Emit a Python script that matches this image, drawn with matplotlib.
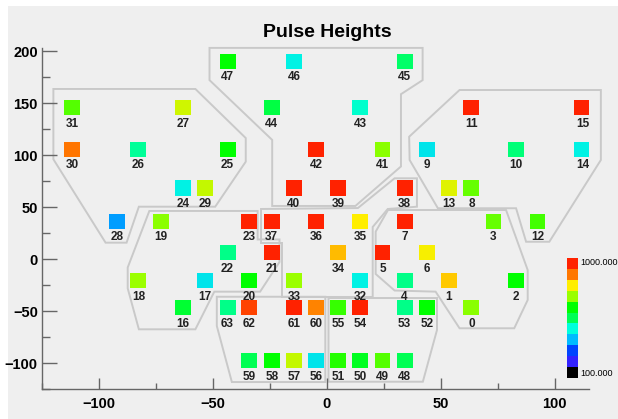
import matplotlib
matplotlib.use('Agg')
import matplotlib.pyplot as plt
from matplotlib.colors import LinearSegmentedColormap, ListedColormap, Normalize
from matplotlib.patches import Rectangle, Polygon
from matplotlib.cm import ScalarMappable
from matplotlib.ticker import MultipleLocator

plt.rcParams['font.family'] = ['Liberation Sans', 'DejaVu Sans']

# Channel number, pad centre (mm) and pulse height
channels = [47, 46, 45,
            31, 27, 44, 43, 11, 15,
            30, 26, 25, 42, 41, 9, 10, 14,
            24, 29, 40, 39, 38, 13, 8,
            28, 19, 23, 37, 36, 35, 7, 3, 12,
            22, 21, 34, 5, 6,
            18, 17, 20, 33, 32, 4, 1, 2,
            16, 63, 62, 61, 60, 55, 54, 53, 52, 0,
            59, 58, 57, 56, 51, 50, 49, 48]
pos_x = [-43.6, -14.5, 34.1,
         -111.9, -63.2, -24.2, 14.7, 63.4, 112.1,
         -111.9, -82.8, -43.6, -4.7, 24.4, 43.9, 82.9, 112.1,
         -63.2, -53.5, -14.5, 5.0, 34.1, 53.6, 63.4,
         -92.2, -72.8, -34.0, -24.2, -4.7, 14.7, 34.1, 73.1, 92.4,
         -43.6, -24.2, 5.0, 24.4, 43.9,
         -82.7, -53.5, -34.0, -14.5, 14.7, 34.1, 53.6, 82.9,
         -63.2, -43.6, -34.0, -14.5, -4.7, 5.0, 14.7, 34.1, 43.9, 63.4,
         -34.0, -24.2, -14.5, -4.7, 5.0, 14.7, 24.4, 34.1]
pos_y = [190.2] * 3 + [145.7] * 6 + [105.6] * 8 + [68.3] * 7 + [36.3] * 9 + \
        [6.1] * 5 + [-21.0] * 8 + [-46.6] * 10 + [-97.9] * 8
heights = [640, 442, 539,
           690, 775, 568, 471, 1000, 1000,
           910, 505, 640, 1000, 720, 424, 527, 442,
           442, 766, 1000, 1000, 1000, 790, 700,
           347, 720, 1000, 1000, 1000, 820, 1000, 700, 680,
           516, 1000, 859, 1000, 812,
           730, 424, 640, 730, 442, 516, 846, 640,
           586, 516, 964, 1000, 900, 670, 1000, 516, 640, 720,
           550, 640, 766, 424, 660, 604, 690, 550]

# Outlines of the PMT groups
outlines = [
    [(-51.5, 203), (42, 203), (42, 172), (32.5, 158.5), (32.5, 89), (12.5, 51),
     (-24, 51), (-24, 114.5), (-51.5, 172)],
    [(-120, 163.5), (-57.7, 163.5), (-35.6, 116.3), (-35.6, 93.6), (-49, 50.3),
     (-82.5, 50.3), (-87.9, 15.7), (-97.1, 15.7), (-120, 95.9)],
    [(58.2, 162.5), (120.2, 162.5), (120.2, 95.2), (97.6, 16.6), (87.4, 16.6),
     (83, 48.8), (48.7, 48.8), (36.3, 95.2), (36.1, 117.6)],
    [(26.8, 47.1), (78.6, 47.1), (88.1, -10.6), (88.1, -39.4), (82.2, -66.6),
     (58.2, -66.6), (47.7, -31.4), (29.7, -30.3), (21.4, -14.4), (21.4, 26.3)],
    [(-28.9, 48.1), (13.6, 49), (29.7, 77.6), (39.5, 77.6), (39.5, 50.3),
     (26.7, 48.1), (20.1, 30.8), (20.1, -36.5), (-19.7, -36.5), (-19.7, 15.4),
     (-28.9, 15.4)],
    [(-77.9, 46.2), (-30.4, 46.2), (-30.4, 18.8), (-20.8, 18.8), (-20.8, -2.9),
     (-29.3, -31.4), (-49.4, -31.4), (-57.7, -67.6), (-82.5, -67.6),
     (-87.4, -28.2), (-87.4, -8.2)],
    [(-48.3, -36.3), (-0.7, -36.3), (-0.7, -118.3), (-41.7, -118.3), (-48.3, -64.4)],
    [(0.7, -37.5), (48.3, -37.5), (48.3, -68.3), (42.1, -118), (0.7, -118)],
]

palette = ['#000000', '#3322ff', '#0044ff', '#00bbff', '#00ffdd', '#00ff55',
           '#00ff00', '#99ff00', '#ffee00', '#ff7700', '#ff2200']
zmin, zmax = 100, 1000
pad_w, pad_h = 7.0, 14.5

cmap = LinearSegmentedColormap.from_list('pulse', palette)
norm = Normalize(zmin, zmax)

fig = plt.figure(figsize=(6.18, 4.19), dpi=100, facecolor='white')
fig.add_artist(Rectangle((8 / 618, 0), 1, 413 / 419, transform=fig.transFigure,
                         facecolor='#efefef', edgecolor='none', zorder=-10))

ax = fig.add_axes([42 / 618, 30 / 419, 547 / 618, 341 / 419])
ax.set_facecolor('none')
ax.set_xlim(-125, 115)
ax.set_ylim(-125, 202.9)

for verts in outlines:
    ax.add_patch(Polygon(verts, closed=True, fill=False, edgecolor='#c9c9c9',
                         lw=1.4, clip_on=False, zorder=1))

for ch, x, y, v in zip(channels, pos_x, pos_y, heights):
    ax.add_patch(Rectangle((x - pad_w / 2, y - pad_h / 2), pad_w, pad_h,
                           facecolor=cmap(norm(v)), edgecolor='none', zorder=2))
    ax.annotate(str(ch), (x, y - pad_h / 2), xytext=(0, -1.8),
                textcoords='offset points', ha='center', va='top',
                fontsize=8.5, fontweight='bold', color='#222222', zorder=3)

for side in ['top', 'right']:
    ax.spines[side].set_visible(False)
for side in ['left', 'bottom']:
    ax.spines[side].set_color('#666666')
    ax.spines[side].set_linewidth(1.0)

ax.set_xticks([-100, -50, 0, 50, 100])
ax.set_yticks([-100, -50, 0, 50, 100, 150, 200])
ax.xaxis.set_minor_locator(MultipleLocator(25))
ax.yaxis.set_minor_locator(MultipleLocator(25))
ax.tick_params(axis='x', which='major', direction='in', length=7.7, width=1,
               color='#666666', pad=6, labelsize=10.5)
ax.tick_params(axis='x', which='minor', direction='in', length=4.3, width=1,
               color='#666666')
ax.tick_params(axis='y', which='major', direction='in', length=10.6, width=1,
               color='#666666', pad=3, labelsize=10.5)
ax.tick_params(axis='y', which='minor', direction='in', length=5.8, width=1,
               color='#666666')
for lab in ax.get_xticklabels() + ax.get_yticklabels():
    lab.set_fontweight('bold')

fig.text(327 / 618, 1 - 36.7 / 419, 'Pulse Heights', ha='center',
         va='baseline', fontsize=14, fontweight='bold')

# Palette axis
cax = fig.add_axes([566.7 / 618, 41.3 / 419, 11.6 / 618, 119.4 / 419])
sm = ScalarMappable(norm=norm, cmap=ListedColormap(palette))
cb = fig.colorbar(sm, cax=cax, ticks=[zmin, zmax], format='%.3f')
cb.outline.set_visible(False)
cax.tick_params(length=0, labelsize=6.5, pad=1.2)
labs = cax.get_yticklabels()
labs[0].set_va('bottom')
labs[1].set_va('top')

fig.savefig('out.png', dpi=100, facecolor=fig.get_facecolor())
